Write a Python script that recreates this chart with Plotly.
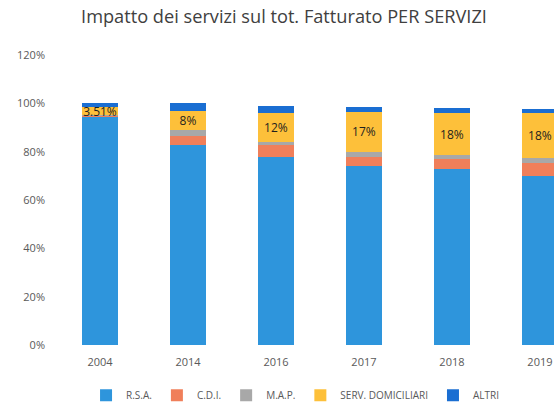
import plotly.graph_objects as go

years = ["2004", "2014", "2016", "2017", "2018", "2019"]
rsa = [94.6, 82.6, 77.8, 74.0, 72.7, 70.0]
cdi = [0.2, 4.0, 4.8, 3.9, 4.1, 5.5]
map_ = [0.2, 2.2, 1.4, 2.0, 1.7, 1.7]
serv = [3.51, 8.0, 12.1, 16.5, 17.6, 18.6]
altri = [1.5, 3.3, 3.0, 2.0, 2.0, 1.7]
serv_labels = ["3.51%", "8%", "12%", "17%", "18%", "18%"]

series = [
    ("R.S.A.", rsa, "#2E95DC"),
    ("C.D.I.", cdi, "#F07F5A"),
    ("M.A.P.", map_, "#A8A8A8"),
    ("SERV. DOMICILIARI", serv, "#FDC03A"),
    ("ALTRI", altri, "#1A6ED2"),
]

fig = go.Figure()
for name, vals, color in series:
    kw = {}
    if name == "SERV. DOMICILIARI":
        kw = dict(text=serv_labels, textposition="inside", insidetextanchor="middle",
                  constraintext="none", textangle=0,
                  textfont=dict(family="Open Sans", size=12, color="#1f1f1f"))
    fig.add_trace(go.Bar(x=years, y=vals, name=name, marker=dict(color=color, line=dict(width=0)),
                         hoverinfo="skip", **kw))

fig.update_layout(
    width=554, height=402,
    barmode="stack", bargap=0.59,
    margin=dict(l=56, r=0, t=55, b=57, autoexpand=False),
    paper_bgcolor="white", plot_bgcolor="white",
    title=dict(text="Impatto dei servizi sul tot. Fatturato PER SERVIZI",
               xref="container", x=0.5126, xanchor="center",
               yref="container", y=0.958, yanchor="middle",
               font=dict(family="Open Sans", size=18.2, color="#404040")),
    font=dict(family="Open Sans", color="#595959"),
    showlegend=True,
    legend=dict(orientation="h", x=0.48, xanchor="center",
                yref="container", y=0.017, yanchor="middle",
                font=dict(size=10, color="#595959"), itemwidth=30, traceorder="normal",
                bgcolor="rgba(0,0,0,0)"),
)
fig.update_xaxes(type="category", range=[-0.5, 5.16], showgrid=False, showline=False,
                 zeroline=False, tickfont=dict(size=11, color="#595959"), ticks="",
                 ticklabelstandoff=9, automargin=False)
fig.update_yaxes(range=[0, 120], tickvals=[0, 20, 40, 60, 80, 100, 120],
                 ticktext=["0%", "20%", "40%", "60%", "80%", "100%", "120%"],
                 showgrid=False, zeroline=False, showline=False,
                 tickfont=dict(size=11, color="#595959"), ticklabelstandoff=10,
                 automargin=False)

fig.write_html(
    "out.html",
    config={"displayModeBar": False},
    post_script="document.body.style.margin='0';document.body.style.overflow='hidden';",
)
